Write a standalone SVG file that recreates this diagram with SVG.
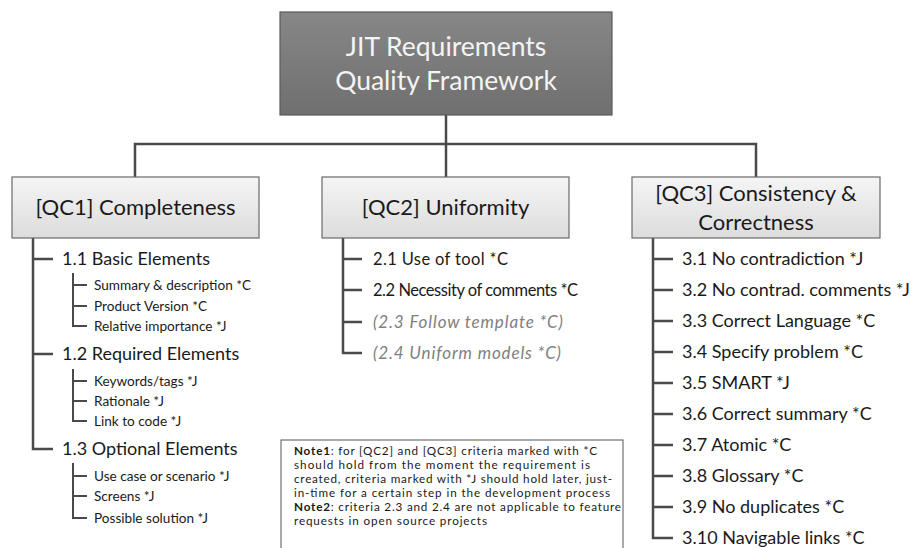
<svg xmlns="http://www.w3.org/2000/svg" width="913" height="548" viewBox="0 0 913 548">
<defs>
<linearGradient id="gTop" x1="0" y1="0" x2="0" y2="1"><stop offset="0" stop-color="#878787"/><stop offset="1" stop-color="#6f6f6f"/></linearGradient>
<linearGradient id="gQC" x1="0" y1="0" x2="0" y2="1"><stop offset="0" stop-color="#f5f5f5"/><stop offset="1" stop-color="#dcdcdc"/></linearGradient>
<style>
text{font-family:Lato,"Liberation Sans",sans-serif;fill:#1a1a1a}
.title{font-size:26.5px;fill:#f4f4f4;text-anchor:middle}
.qc{font-size:22px;text-anchor:middle}
.l2{font-size:18px}
.l2b{font-size:16.5px}
.l3{font-size:13.6px}
.na{font-style:italic;fill:#808080;font-size:17px}
.note{font-size:11.7px}
.b{font-weight:bold}
.con{fill:none;stroke:#4a4a4a;stroke-width:2.5}
.sub{fill:none;stroke:#4a4a4a;stroke-width:2}
.boxq{fill:url(#gQC);stroke:#6a6a6a;stroke-width:1.2}
</style>
</defs>
<rect width="913" height="548" fill="#ffffff"/>
<g id="connectors">
<path class="con" d="M446 115V177"/>
<path class="con" d="M135 177V144H756V177"/>
<path class="con" d="M33 238V449H53M33 259H53M33 354H53"/>
<path class="sub" d="M73 273V326H87M73 285H87M73 306H87"/>
<path class="sub" d="M73 369V421H87M73 381H87M73 401H87"/>
<path class="sub" d="M73 463V518H87M73 476H87M73 496H87"/>
<path class="con" d="M343 238V353H362M343 259H362M343 290H362M343 322H362"/>
<path class="con" d="M653 238V538H673M653 259H673M653 290H673M653 321H673M653 352H673M653 383H673M653 414H673M653 445H673M653 476H673M653 507H673"/>
</g>
<g id="root">
<rect x="280" y="12" width="332" height="103" fill="url(#gTop)" stroke="#5a5a5a" stroke-width="1.2"/>
<text class="title" x="446" y="56">JIT Requirements</text>
<text class="title" x="446" y="90">Quality Framework</text>
</g>
<g id="qc1">
<rect class="boxq" x="12" y="177" width="247" height="61"/>
<text class="qc" x="135.5" y="215">[QC1] Completeness</text>
</g>
<g id="qc2">
<rect class="boxq" x="322" y="177" width="247" height="61"/>
<text class="qc" x="445.5" y="215">[QC2] Uniformity</text>
</g>
<g id="qc3">
<rect class="boxq" x="632" y="177" width="248" height="61"/>
<text class="qc" x="756" y="201">[QC3] Consistency &amp;</text>
<text class="qc" x="756" y="230">Correctness</text>
</g>
<g id="n1-1"><text class="l2" x="62" y="265">1.1 Basic Elements</text></g>
<g id="n1-1a"><text class="l3" x="94" y="290">Summary &amp; description *C</text></g>
<g id="n1-1b"><text class="l3" x="94" y="311">Product Version *C</text></g>
<g id="n1-1c"><text class="l3" x="94" y="331">Relative importance *J</text></g>
<g id="n1-2"><text class="l2" x="62" y="360">1.2 Required Elements</text></g>
<g id="n1-2a"><text class="l3" x="94" y="386">Keywords/tags *J</text></g>
<g id="n1-2b"><text class="l3" x="94" y="406">Rationale *J</text></g>
<g id="n1-2c"><text class="l3" x="94" y="426">Link to code *J</text></g>
<g id="n1-3"><text class="l2" x="62" y="455">1.3 Optional Elements</text></g>
<g id="n1-3a"><text class="l3" x="94" y="481">Use case or scenario *J</text></g>
<g id="n1-3b"><text class="l3" x="94" y="501">Screens *J</text></g>
<g id="n1-3c"><text class="l3" x="94" y="523">Possible solution *J</text></g>
<g id="n2-1"><text class="l2b" x="373" y="265" textLength="135">2.1 Use of tool *C</text></g>
<g id="n2-2"><text class="l2b" x="373" y="296" textLength="205">2.2 Necessity of comments *C</text></g>
<g id="n2-3"><text class="na" x="373" y="328" textLength="190">(2.3 Follow template *C)</text></g>
<g id="n2-4"><text class="na" x="373" y="359" textLength="188">(2.4 Uniform models *C)</text></g>
<g id="n3-1"><text class="l2" x="682" y="265">3.1 No contradiction *J</text></g>
<g id="n3-2"><text class="l2" x="682" y="296">3.2 No contrad. comments *J</text></g>
<g id="n3-3"><text class="l2" x="682" y="327">3.3 Correct Language *C</text></g>
<g id="n3-4"><text class="l2" x="682" y="358">3.4 Specify problem *C</text></g>
<g id="n3-5"><text class="l2" x="682" y="389">3.5 SMART *J</text></g>
<g id="n3-6"><text class="l2" x="682" y="420">3.6 Correct summary *C</text></g>
<g id="n3-7"><text class="l2" x="682" y="451">3.7 Atomic *C</text></g>
<g id="n3-8"><text class="l2" x="682" y="482">3.8 Glossary *C</text></g>
<g id="n3-9"><text class="l2" x="682" y="513">3.9 No duplicates *C</text></g>
<g id="n3-10"><text class="l2" x="682" y="544">3.10 Navigable links *C</text></g>
<g id="note">
<rect x="281" y="440" width="342" height="120" fill="#ffffff" stroke="#555555" stroke-width="1"/>
<text class="note" x="294" y="455" textLength="303"><tspan class="b">Note1</tspan>: for [QC2] and [QC3] criteria marked with *C</text>
<text class="note" x="294" y="469" textLength="296">should hold from the moment the requirement is</text>
<text class="note" x="294" y="483" textLength="318">created, criteria marked with *J should hold later, just-</text>
<text class="note" x="294" y="497" textLength="316">in-time for a certain step in the development process</text>
<text class="note" x="294" y="511" textLength="327"><tspan class="b">Note2</tspan>: criteria 2.3 and 2.4 are not applicable to feature</text>
<text class="note" x="294" y="525" textLength="193">requests in open source projects</text>
</g>
</svg>
